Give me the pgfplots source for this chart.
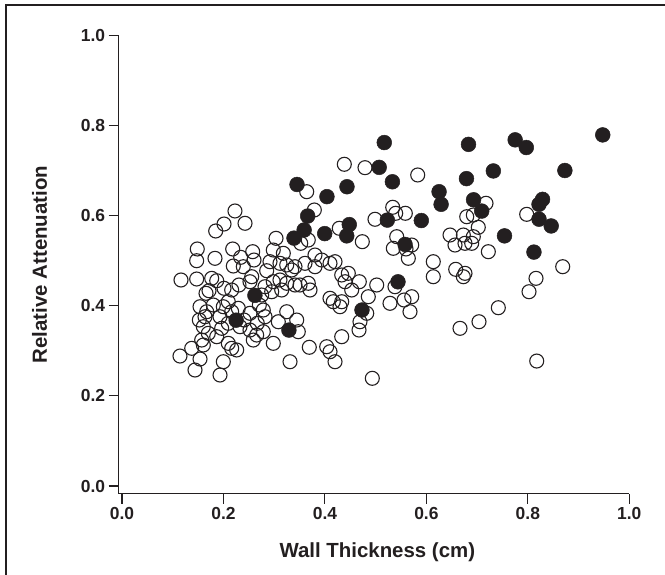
\documentclass[border=0pt]{standalone}
\usepackage{pgfplots}
\pgfplotsset{compat=1.18}
\usepackage{fontspec}
\setmainfont{Liberation Sans}
\definecolor{ink}{HTML}{231F20}

\begin{document}
\begin{tikzpicture}[x=1bp,y=1bp]
\path[use as bounding box] (0,0) rectangle (665,575);
\draw[ink, line width=1.1bp] (6,0) -- (6,570) -- (665,570);
\begin{axis}[
  at={(118.7bp,81.3bp)}, anchor=south west,
  scale only axis, width=510.6bp, height=458.4bp,
  xmin=-0.0065, xmax=1.0, ymin=-0.017, ymax=1.0,
  axis x line*=bottom, axis y line*=left,
  axis line style={ink, line width=1.1bp},
  tick align=outside, major tick length=10bp,
  tick style={ink, line width=1.1bp},
  xtick={0,0.2,0.4,0.6,0.8,1.0},
  ytick={0,0.2,0.4,0.6,0.8,1.0},
  /pgf/number format/assume math mode=true,
  /pgf/number format/fixed, /pgf/number format/fixed zerofill,
  /pgf/number format/precision=1,
  tick label style={font=\bfseries\fontsize{17.5}{18}\selectfont, text=ink},
  label style={font=\bfseries\fontsize{20.5}{22}\selectfont, text=ink},
  xlabel={Wall Thickness (cm)},
  ylabel={Relative Attenuation},
  xlabel style={at={(axis description cs:0.5065,-0.127)}, anchor=center},
  ylabel style={at={(axis description cs:-0.155,0.5)}, anchor=center},
  clip=false,
]
% open circles
\addplot[only marks, mark=o, mark size=7.0bp, mark options={ink, line width=1.1bp}] coordinates {
(0.2227,0.6102) (0.2011,0.5813) (0.2425,0.5829) (0.1847,0.5658) (0.3036,0.5496)
(0.1484,0.5259) (0.1472,0.4999) (0.1833,0.5052) (0.2182,0.5259) (0.2340,0.5074)
(0.2576,0.5199) (0.2602,0.5014) (0.2391,0.4866) (0.2194,0.4881) (0.2982,0.5236)
(0.2917,0.4977) (0.3114,0.4941) (0.3247,0.4904) (0.3345,0.4793) (0.2852,0.4777)
(0.1163,0.4571) (0.1472,0.4593) (0.1768,0.4608) (0.1867,0.4555) (0.1656,0.4276)
(0.1715,0.4333) (0.2011,0.4387) (0.2162,0.4349) (0.2306,0.4460) (0.2523,0.4533)
(0.2557,0.4644) (0.2982,0.4533) (0.3114,0.4571) (0.3247,0.4498) (0.3410,0.4460)
(0.2819,0.4422) (0.2951,0.4311) (0.3148,0.4349) (0.2754,0.4238) (0.1538,0.3978)
(0.1636,0.3756) (0.1670,0.3867) (0.1524,0.3683) (0.1603,0.3535) (0.1800,0.4016)
(0.2095,0.4089) (0.1997,0.3978) (0.1932,0.3756) (0.2162,0.3867) (0.2293,0.3943)
(0.2405,0.3683) (0.2326,0.3535) (0.2095,0.3610) (0.2523,0.3832) (0.2707,0.4016)
(0.2785,0.3905) (0.2819,0.3756) (0.2667,0.3610) (0.2785,0.3424) (0.2655,0.3350)
(0.2588,0.3239) (0.2523,0.3461) (0.1701,0.3388) (0.1571,0.3239) (0.1867,0.3313)
(0.1965,0.3499) (0.1603,0.3129) (0.2095,0.3166) (0.2162,0.3055) (0.2261,0.3018)
(0.2982,0.3166) (0.3081,0.3645) (0.3247,0.3867) (0.3444,0.3683) (0.1374,0.3055)
(0.1143,0.2884) (0.1538,0.2818) (0.1439,0.2574) (0.1997,0.2758) (0.1932,0.2463)
(0.3312,0.2758)
(0.4382,0.7138) (0.4790,0.7063) (0.5829,0.6901) (0.3641,0.6530) (0.3791,0.6124)
(0.5336,0.6184) (0.5395,0.6051) (0.5585,0.6051) (0.4987,0.5918) (0.4283,0.5718)
(0.4737,0.5421) (0.3523,0.5385) (0.3672,0.5458) (0.5415,0.5532) (0.5348,0.5274)
(0.5598,0.5259) (0.5711,0.5347) (0.5644,0.5052) (0.6136,0.4977) (0.6136,0.4644)
(0.6466,0.5569) (0.6564,0.5347) (0.6578,0.4808) (0.3180,0.5163) (0.3410,0.4866)
(0.3607,0.4941) (0.3804,0.5125) (0.3937,0.5014) (0.3804,0.4866) (0.4100,0.4941)
(0.4199,0.4977) (0.3509,0.4460) (0.3672,0.4498) (0.3706,0.4349) (0.4331,0.4682)
(0.4461,0.4719) (0.4396,0.4533) (0.4528,0.4349) (0.4678,0.4533) (0.5021,0.4460)
(0.5381,0.4422) (0.4100,0.4165) (0.4165,0.4089) (0.4331,0.4089) (0.4297,0.3978)
(0.4855,0.4200) (0.5283,0.4054) (0.5559,0.4127) (0.5711,0.4200) (0.5677,0.3867)
(0.4824,0.3832) (0.4691,0.3645) (0.4672,0.3461) (0.3475,0.3424) (0.4331,0.3313)
(0.4035,0.3091) (0.4100,0.2980) (0.4199,0.2758) (0.3692,0.3078) (0.4934,0.2390)
(0.6925,0.6013)
(0.7175,0.6273) (0.7977,0.6028) (0.6795,0.5975) (0.7023,0.5740) (0.6728,0.5569)
(0.6925,0.5532) (0.6893,0.5385) (0.6761,0.5385) (0.7221,0.5199) (0.6761,0.4719)
(0.6728,0.4644) (0.8687,0.4866) (0.8161,0.4608) (0.8023,0.4311) (0.7418,0.3956)
(0.7037,0.3645) (0.6663,0.3499) (0.8175,0.2773)
};
% filled circles
\addplot[only marks, mark=*, mark size=7.4bp, mark options={ink, fill=ink, line width=0.5bp}] coordinates {
(0.517,0.762) (0.683,0.758) (0.507,0.707) (0.533,0.675) (0.345,0.669)
(0.4435,0.664) (0.679,0.682) (0.404,0.642) (0.625,0.653) (0.629,0.625)
(0.693,0.635) (0.366,0.599) (0.448,0.580) (0.523,0.590) (0.590,0.589)
(0.359,0.568) (0.3996,0.560) (0.443,0.555) (0.339,0.550) (0.558,0.536)
(0.544,0.453) (0.473,0.3905) (0.329,0.346) (0.775,0.768) (0.797,0.751)
(0.9476,0.779) (0.732,0.699) (0.873,0.700) (0.709,0.610) (0.829,0.636)
(0.822,0.625) (0.822,0.592) (0.846,0.577) (0.754,0.555) (0.812,0.519)
(0.262,0.423) (0.225,0.368)
};
\end{axis}
\end{tikzpicture}
\end{document}
